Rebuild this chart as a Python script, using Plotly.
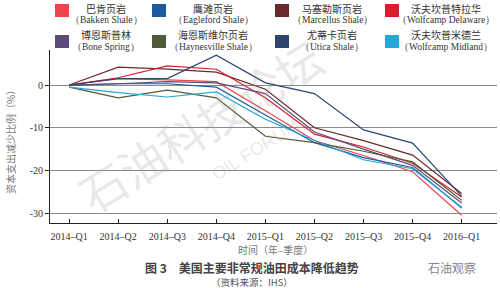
import plotly.graph_objects as go

quarters = ["2014–Q1", "2014–Q2", "2014–Q3", "2014–Q4", "2015–Q1",
            "2015–Q2", "2015–Q3", "2015–Q4", "2016–Q1"]

names_cn = ["巴肯页岩", "鹰滩页岩", "马塞勒斯页岩", "沃夫坎普特拉华",
            "博恩斯普林", "海恩斯维尔页岩", "尤蒂卡页岩", "沃夫坎普米德兰"]
names_en = ["Bakken Shale", "Eagleford Shale", "Marcellus Shale", "Wolfcamp Delaware",
            "Bone Spring", "Haynesville Shale", "Utica Shale", "Wolfcamp Midland"]
colors = ["#e8464f", "#1f5a9e", "#6b2a2c", "#d81e2c",
          "#5c4a78", "#4f5a36", "#2d4670", "#25a6d8"]

bakken    = [0, 1.5, 1.2, 0.8, -6.0, -13.0, -16.5, -20.3, -30.5]
eagleford = [0, 0.3, 0.3, -0.5, -7.0, -13.5, -17.0, -19.3, -28.8]
marcellus = [0, 4.2, 3.7, 3.0, -1.0, -10.0, -13.0, -16.4, -25.4]
delaware  = [0, 1.7, 4.5, 3.7, -3.0, -11.5, -14.5, -18.3, -26.2]
bonespr   = [0, 0.3, 0.8, 0.5, -2.0, -11.0, -15.0, -18.8, -27.6]
haynes    = [-0.5, -3.0, -1.2, -3.0, -12.0, -13.5, -15.5, -18.0, -27.0]
utica     = [0, 1.5, 1.5, 7.0, 0.5, -2.0, -10.5, -13.6, -26.0]
midland   = [-0.5, -1.8, -2.8, -1.6, -8.0, -13.0, -17.5, -19.6, -28.6]

series = [bakken, eagleford, marcellus, delaware, bonespr, haynes, utica, midland]

y_ticks = [0, -10, -20, -30]

W, H = 500, 288
L, R, T, B = 50, 3, 50, 65
PW, PH = W - L - R, H - T - B

def px(x): return (x - L) / PW
def py(y): return (H - B - y) / PH

fig = go.Figure()
for vals, c in zip(series, colors):
    fig.add_trace(go.Scatter(x=quarters, y=vals, mode="lines",
                             line=dict(color=c, width=1.2), showlegend=False))

def note(x, y, text, font, angle=0):
    fig.add_annotation(x=px(x), y=py(y), xref="paper", yref="paper", text=text,
                       showarrow=False, xanchor="center", yanchor="middle",
                       textangle=angle, font=font)

# watermark
note(200, 125, "石油科技论坛",
     dict(family="Noto Sans CJK SC", size=46, color="rgba(150,150,150,0.22)"), -32)
note(255, 150, "OIL FORUM",
     dict(family="Liberation Sans", size=18, color="rgba(150,150,150,0.22)"), -32)

# custom legend
swatch_x = [55, 152, 275, 385]
text_cx = [106, 213, 332, 446]
rows_y = [(4, 17, 8, 20), (35, 48, 34, 47)]
for i in range(8):
    r, col = divmod(i, 4)
    y0, y1, ty1, ty2 = rows_y[r]
    x0 = swatch_x[col]
    fig.add_shape(type="rect", xref="paper", yref="paper",
                  x0=px(x0), x1=px(x0 + 14), y0=py(y1), y1=py(y0),
                  fillcolor=colors[i], line=dict(width=0))
    note(text_cx[col], ty1, names_cn[i],
         dict(family="Noto Sans CJK SC", size=10, color="#333"))
    note(text_cx[col], ty2, "（" + names_en[i] + "）",
         dict(family="Liberation Serif", size=9.5, color="#333"))

# titles
note(275, 249, "时间（年–季度）", dict(family="Noto Sans CJK SC", size=10, color="#777"))
note(252, 267, "<b>图 3　美国主要非常规油田成本降低趋势</b>",
     dict(family="Noto Sans CJK SC", size=12, color="#444"))
note(252, 282, "（资料来源：IHS）", dict(family="Noto Sans CJK SC", size=9.5, color="#555"))
note(452, 267, "石油观察", dict(family="Noto Sans CJK SC", size=12, color="#888"))
note(10, 140, "资本支出减少比例（%）", dict(family="Noto Sans CJK SC", size=10, color="#777"), -90)

fig.update_layout(
    width=W, height=H,
    margin=dict(l=L, r=R, t=T, b=B),
    plot_bgcolor="white", paper_bgcolor="white",
    xaxis=dict(type="category", range=[-0.39, 8.72], showgrid=False,
               showline=True, linecolor="#222", linewidth=1,
               ticks="inside", ticklen=4, tickcolor="#222", ticklabelstandoff=4,
               tickfont=dict(family="Liberation Serif", size=10, color="#333")),
    yaxis=dict(range=[-32.3, 8.2], tickvals=y_ticks, ticktext=[str(v) for v in y_ticks],
               showgrid=True, gridcolor="#8a8a8a", gridwidth=1, zeroline=False,
               showline=True, linecolor="#222", linewidth=1,
               ticks="outside", ticklen=4, tickcolor="#222",
               tickfont=dict(family="Liberation Serif", size=10, color="#333")),
)

fig.write_html("out.html")
